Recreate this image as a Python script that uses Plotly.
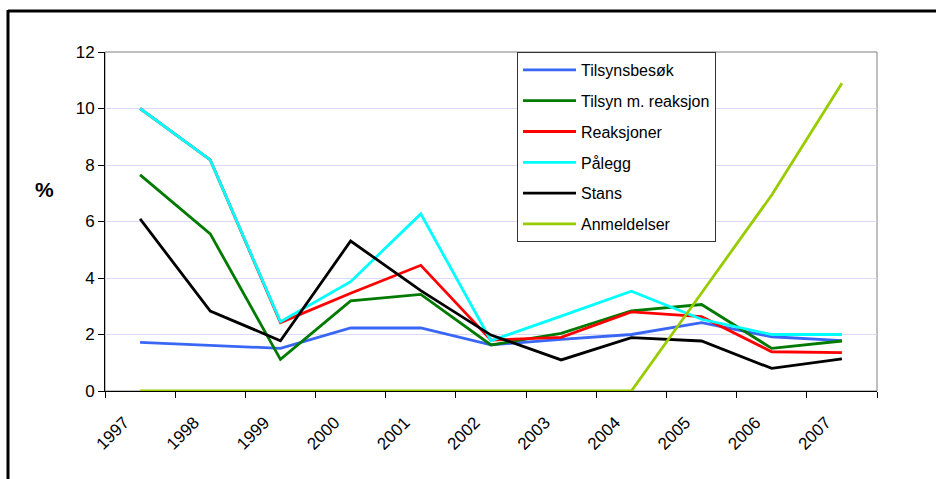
import plotly.graph_objects as go

years = ["1997", "1998", "1999", "2000", "2001", "2002", "2003", "2004", "2005", "2006", "2007"]
tilsynsbesok = [1.72, 1.62, 1.51, 2.23, 2.23, 1.63, 1.83, 2.00, 2.42, 1.92, 1.78]
tilsyn_m_reaksjon = [7.65, 5.56, 1.12, 3.19, 3.42, 1.63, 2.04, 2.84, 3.06, 1.51, 1.77]
reaksjoner = [10.0, 8.18, 2.42, 3.46, 4.45, 1.80, 1.90, 2.80, 2.63, 1.39, 1.36]
palegg = [10.0, 8.18, 2.45, 3.87, 6.27, 1.78, 2.65, 3.53, 2.54, 2.00, 2.00]
stans = [6.09, 2.83, 1.78, 5.31, 3.55, 1.98, 1.10, 1.89, 1.77, 0.80, 1.14]
anmeldelser = [0, 0, 0, 0, 0, 0, 0, 0, 3.47, 6.94, 10.89]
y_ticks = [0, 2, 4, 6, 8, 10, 12]

series = [
    ("Tilsynsbesøk", tilsynsbesok, "#3a66f5"),
    ("Tilsyn m. reaksjon", tilsyn_m_reaksjon, "#007a00"),
    ("Reaksjoner", reaksjoner, "#ff0000"),
    ("Pålegg", palegg, "#00ffff"),
    ("Stans", stans, "#000000"),
    ("Anmeldelser", anmeldelser, "#99cc00"),
]

fig = go.Figure()
for i, (name, vals, col) in enumerate(series):
    fig.add_trace(go.Scatter(
        x=years, y=vals, name=name, mode="lines",
        line=dict(color=col, width=2.8),
        legendgroup=f"g{i}",
    ))

font = "Liberation Sans, Arial, sans-serif"
L, R, T, B = 105, 59, 52, 88
W, H = 936, 479
pw, ph = W - L - R, H - T - B

fig.update_layout(
    width=W, height=H,
    margin=dict(l=L, r=R, t=T, b=B, pad=0),
    paper_bgcolor="white", plot_bgcolor="white",
    font=dict(family=font, size=16, color="black"),
    showlegend=True,
    legend=dict(
        x=(517 - L) / pw, y=1, xanchor="left", yanchor="top",
        bordercolor="#333333", borderwidth=1, bgcolor="white",
        font=dict(family=font, size=16, color="black"),
        tracegroupgap=7, itemwidth=53, entrywidth=200,
    ),
    xaxis=dict(
        type="category", tickson="boundaries", tickangle=-45,
        showline=True, linecolor="black", linewidth=1,
        ticks="outside", ticklen=6, tickcolor="black",
        showgrid=False, zeroline=False,
        tickfont=dict(family=font, size=17, color="black"),
        ticklabelstandoff=14, ticklabelshift=-16,
        range=[-0.5, 10.5],
    ),
    yaxis=dict(
        range=[0, 12], tickvals=y_ticks,
        showline=True, linecolor="black", linewidth=1,
        ticks="outside", ticklen=6, tickcolor="black",
        showgrid=True, gridcolor="#dadaf8", gridwidth=1,
        zeroline=False,
        tickfont=dict(family=font, size=17, color="black"),
    ),
    shapes=[
        dict(type="rect", xref="paper", yref="paper", x0=0, x1=1, y0=0, y1=1,
             line=dict(color="#808080", width=1), layer="below"),
        dict(type="line", xref="paper", yref="paper",
             x0=(8 - L) / pw, x1=(940 - L) / pw, y0=(H - B - 11) / ph, y1=(H - B - 11) / ph,
             line=dict(color="black", width=3)),
        dict(type="line", xref="paper", yref="paper",
             x0=(8 - L) / pw, x1=(8 - L) / pw, y0=(H - B - 10) / ph, y1=(H - B - 485) / ph,
             line=dict(color="black", width=3)),
    ],
    annotations=[
        dict(text="<b>%</b>", xref="paper", yref="paper",
             x=(33 - L) / pw, y=(H - B - 189) / ph, showarrow=False,
             font=dict(family=font, size=21, color="black")),
    ],
)

fig.write_html(
    "out.html",
    config={"displayModeBar": False},
    post_script="document.body.style.margin='0px';document.body.style.overflow='hidden';",
)
